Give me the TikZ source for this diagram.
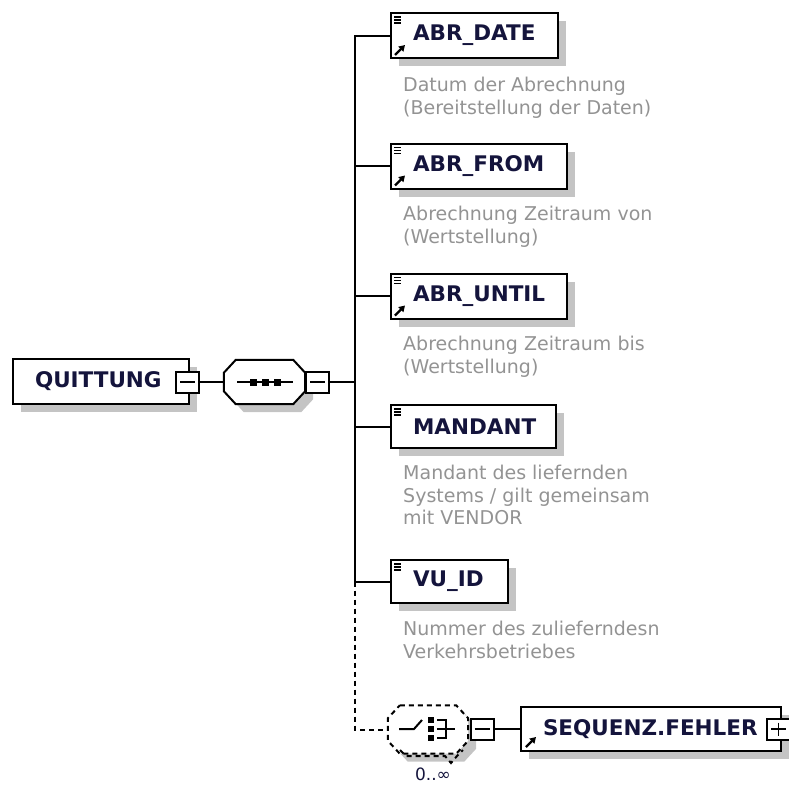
\documentclass[tikz,border=0pt]{standalone}
\usepackage{fontspec}
\setmainfont{DejaVu Sans}
\usetikzlibrary{arrows.meta, positioning, calc, shadows}
\definecolor{xsname}{HTML}{14143C}
\definecolor{xsdesc}{HTML}{939393}
\definecolor{xsshadow}{HTML}{C4C4C4}
% octagon round a node: #1 node, #2/#3 offset
\newcommand{\octpath}[3]{($(#1.north west)+(12+#2,#3)$) -- ($(#1.north east)+(-12+#2,#3)$) -- ($(#1.north east)+(#2,13+#3)$) -- ($(#1.south east)+(#2,-13+#3)$) -- ($(#1.south east)+(-12+#2,#3)$) -- ($(#1.south west)+(12+#2,#3)$) -- ($(#1.south west)+(#2,-13+#3)$) -- ($(#1.north west)+(#2,13+#3)$) -- cycle}

\begin{document}
\begin{tikzpicture}[x=1pt, y=-1pt,
  elem/.style={rectangle, draw=black, line width=2pt, fill=white, anchor=west, minimum height=45pt, inner xsep=22pt, inner ysep=0pt, align=left, text=xsname, font=\fontsize{21.5}{24}\selectfont\bfseries, drop shadow={shadow xshift=8pt, shadow yshift=-8pt, opacity=1, fill=xsshadow}},
  desc/.style={anchor=north west, align=left, inner sep=0pt, text=xsdesc, font=\fontsize{19}{22.5}\selectfont},
  pm/.style={rectangle, draw=black, line width=2pt, fill=white, minimum width=23pt, minimum height=21pt, inner sep=0pt},
  pmminus/.style={pm, path picture={\draw[line width=1.8pt] ([xshift=4pt]path picture bounding box.west) -- ([xshift=-4pt]path picture bounding box.east);}},
  pmplus/.style={pm, path picture={\draw[line width=1.8pt] ([xshift=4pt]path picture bounding box.west) -- ([xshift=-4pt]path picture bounding box.east) ([yshift=-4pt]path picture bounding box.north) -- ([yshift=4pt]path picture bounding box.south);}},
  compositor/.style={rectangle, draw=none, inner sep=0pt},
  wire/.style={line width=2pt, black},
  dwire/.style={wire, dash pattern=on 5pt off 4pt},
  icon/.style={line width=1.3pt, black},
  ref/.style={-{Triangle[length=6pt, width=7pt]}, line width=2.2pt, black},
]
  \useasboundingbox (0,0) rectangle (789,785);

  % Root element
  \node[elem, text width=132pt] (quittung) at (12,381) {QUITTUNG};
  \node[pmminus] (qminus) at (187.5,382) {};

  % Sequence
  \node[compositor, minimum width=81pt, minimum height=44pt] (seq) at (264.5,382) {};
  \fill[xsshadow] \octpath{seq}{8}{8};
  \draw[wire, fill=white] \octpath{seq}{0}{0};
  \node[pmminus] (seqminus) at (317.5,382) {};
  \draw[wire] (237,382) -- (293,382);
  \foreach \sx in {253,265,277}
    \fill[black] (\sx-3.5,378.5) rectangle (\sx+3.5,385.5);
  \coordinate (bus) at (355,382);

  % Children
  \node[elem, text width=123pt] (abrdate) at (390,35.5) {ABR\_DATE};
  \node[desc] at (403,77) {Datum der Abrechnung\\(Bereitstellung der Daten)};
  \node[elem, text width=132pt] (abrfrom) at (390,166) {ABR\_FROM};
  \node[desc] at (403,206) {Abrechnung Zeitraum von\\(Wertstellung)};
  \node[elem, text width=132pt] (abruntil) at (390,296) {ABR\_UNTIL};
  \node[desc] at (403,336) {Abrechnung Zeitraum bis\\(Wertstellung)};
  \node[elem, text width=121pt, minimum height=43pt] (mandant) at (390,426.5) {MANDANT};
  \node[desc] at (403,465) {Mandant des liefernden\\Systems / gilt gemeinsam\\mit VENDOR};
  \node[elem, text width=73pt, minimum height=43pt] (vuid) at (390,581.5) {VU\_ID};
  \node[desc] at (403,621) {Nummer des zulieferndesn\\Verkehrsbetriebes};

  % Icons
  \foreach \n in {abrdate, abrfrom, abruntil, mandant, vuid}
    \foreach \dy in {5,8,11}
      \draw[icon] ($(\n.north west)+(4,\dy)$) -- ++(7,0);
  \foreach \n in {abrdate, abrfrom, abruntil}
    \draw[ref] ($(\n.south west)+(5,-4)$) -- ++(10,-10);

  % Optional choice
  \node[compositor, minimum width=80pt, minimum height=48pt] (choice) at (428,729.5) {};
  \fill[xsshadow] \octpath{choice}{8}{8};
  \draw[dwire, fill=white] \octpath{choice}{0}{0};
  \draw[dwire] (400,750) -- (406,756) -- (445,756) -- (451,763) -- (457,756) -- (463,750);
  \draw[wire] (399,729) -- (414,729) -- (422,720);
  \foreach \sy in {720,729,738}
    \fill[black] (428,\sy-3) rectangle (434,\sy+3);
  \draw[wire] (437,720) -- (446,720) -- (446,738) -- (437,738);
  \draw[wire] (437,729) -- (455,729);
  \node[pmminus] (chminus) at (482,729) {};
  \node[text=xsname, font=\fontsize{17}{19}\selectfont, inner sep=0pt] (occurs) at (433,774) {0..∞};

  \node[elem, text width=216pt, minimum height=44pt] (fehler) at (520,729) {SEQUENZ.FEHLER};
  \node[pmplus] (fplus) at (778.5,729) {};
  \draw[ref] ($(fehler.south west)+(6,-5)$) -- ++(10,-10);

  % Connectors
  \draw[wire] (qminus) -- (seq);
  \draw[wire] (seq) -- (seqminus);
  \draw[wire] (seqminus) -- (bus);
  \draw[wire] (abrdate.west) -- (abrdate.west -| bus) -- (vuid.west -| bus) -- (vuid.west);
  \draw[wire] (abrfrom.west) -- (abrfrom.west -| bus);
  \draw[wire] (abruntil.west) -- (abruntil.west -| bus);
  \draw[wire] (mandant.west) -- (mandant.west -| bus);
  \draw[dwire] (vuid.west -| bus) |- (choice.west);
  \draw[wire] (chminus) -- (fehler);
\end{tikzpicture}
\end{document}
